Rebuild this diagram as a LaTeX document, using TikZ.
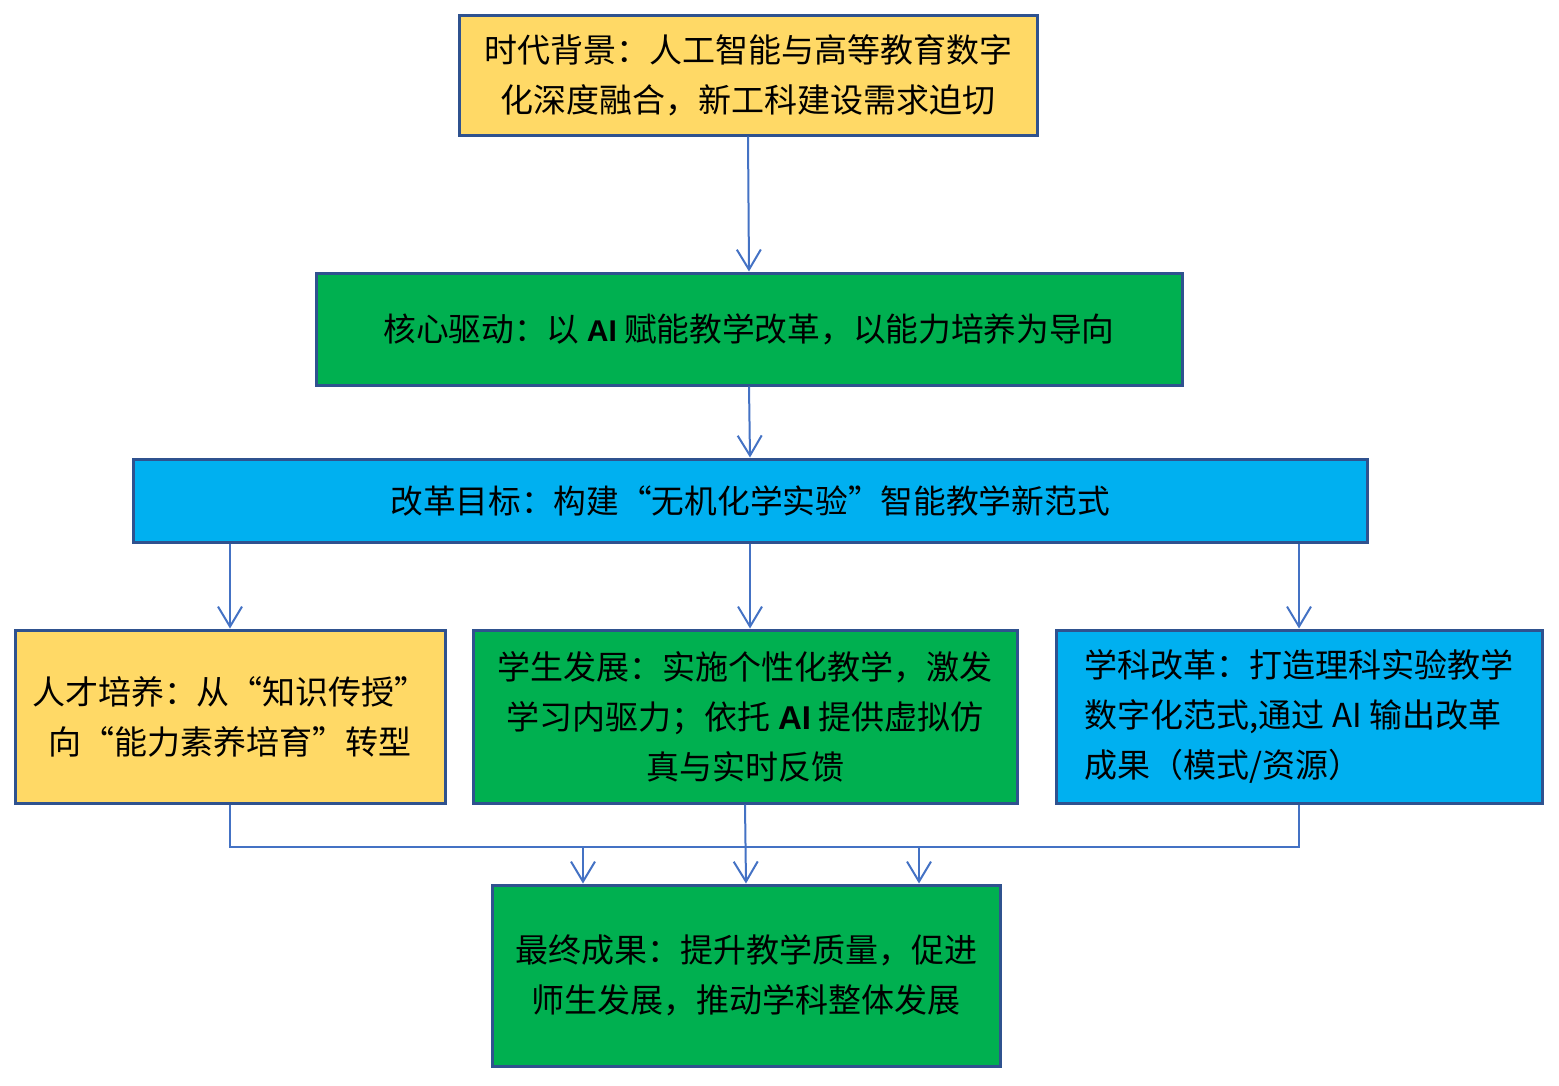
\documentclass[tikz,border=0pt]{standalone}
\usepackage{fontspec}
\setmainfont{Noto Sans CJK SC}
\newfontfamily\latb{Liberation Sans}
\usetikzlibrary{arrows.meta}
\definecolor{bordc}{HTML}{2F528F}
\definecolor{arrc}{HTML}{4472C4}
\definecolor{yel}{HTML}{FFD966}
\definecolor{grn}{HTML}{00B050}
\definecolor{blu}{HTML}{00B0F0}
\newcommand\qL{\makebox[1em][r]{“}}
\newcommand\qR{\makebox[1em][l]{”}}
\tikzset{
  box/.style={draw=bordc, line width=3pt, inner sep=0pt, align=center, text=black,
    font=\fontsize{33}{50}\selectfont},
  arr/.style={draw=arrc, line width=2pt, -{Straight Barb[length=20pt,width=24pt,line width=2pt]}},
  ln/.style={draw=arrc, line width=2pt}
}
\begin{document}
\begin{tikzpicture}[x=1pt,y=-1pt]
\useasboundingbox (0,0) rectangle (1559,1085);
\node[box, fill=yel, minimum width=578pt, minimum height=120pt] (n1) at (748,75)
  {时代背景：人工智能与高等教育数字\\化深度融合，新工科建设需求迫切};
\node[box, fill=grn, minimum width=866pt, minimum height=112pt, font=\fontsize{32.7}{50}\selectfont] (n2) at (749,329)
  {核心驱动：以\ {\latb\bfseries\fontsize{30}{50}\selectfont AI}\ 赋能教学改革，以能力培养为导向};
\node[box, fill=blu, minimum width=1234pt, minimum height=83pt, font=\fontsize{32.7}{50}\selectfont] (n3) at (750,500.5)
  {改革目标：构建\qL 无机化学实验\qR 智能教学新范式};
\node[box, fill=yel, minimum width=430pt, minimum height=173pt] (n4) at (230,716.5)
  {人才培养：从\qL 知识传授\qR\\向\qL 能力素养培育\qR 转型};
\node[box, fill=grn, minimum width=544pt, minimum height=173pt] (n5) at (745,716.5)
  {学生发展：实施个性化教学，激发\\学习内驱力；依托 {\latb\bfseries AI} 提供虚拟仿\\真与实时反馈};
\node[box, fill=blu, minimum width=486pt, minimum height=173pt, align=left] (n6) at (1299,716.5)
  {学科改革：打造理科实验教学\\数字化范式,通过 AI 输出改革\\成果（模式/资源）};
\node[box, fill=grn, minimum width=508pt, minimum height=181pt] (n7) at (746,975.5)
  {最终成果：提升教学质量，促进\\师生发展，推动学科整体发展};
% connectors
\draw[arr] (n1.south) -- (n2.north);
\draw[arr] (n2.south) -- (n3.north);
\draw[arr] (n3.south -| n4.north) -- (n4.north);
\draw[arr] (n3.south) -- (n3.south |- n5.north);
\draw[arr] (n3.south -| n6.north) -- (n6.north);
\draw[ln] (n4.south) -- ++(0,42) -| (n6.south);
\draw[arr] (n5.south) -- (n7.north);
\coordinate (b1) at (583,848);
\coordinate (b2) at (919,848);
\draw[arr] (b1) -- (b1 |- n7.north);
\draw[arr] (b2) -- (b2 |- n7.north);
\end{tikzpicture}
\end{document}
